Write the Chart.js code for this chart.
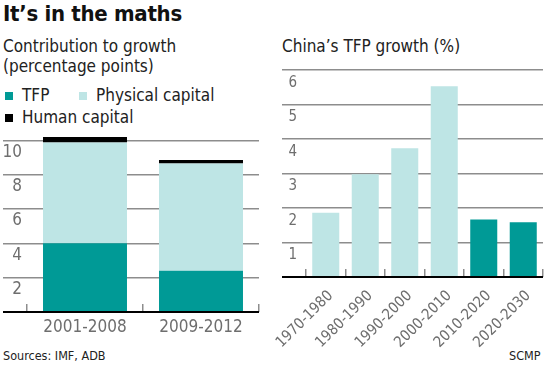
<!DOCTYPE html>
<html>
<head>
<meta charset="utf-8">
<script src="https://cdn.jsdelivr.net/npm/chart.js@4/dist/chart.umd.min.js"></script>
<style>
  body { margin: 0; width: 550px; height: 367px; background: #fff; position: relative; overflow: hidden;
         font-family: "DejaVu Sans Condensed", "Liberation Sans Narrow", sans-serif; color: #222; }
  .txt { position: absolute; white-space: nowrap; line-height: 1; }
  .sq { display: inline-block; width: 8px; height: 8px; margin-right: 9px; vertical-align: 1px; }
  canvas { position: absolute; }
</style>
</head>
<body>
<div class="txt" style="left:3px;top:3px;font-size:22px;font-weight:bold;letter-spacing:-0.3px;color:#111;">It’s in the maths</div>
<div class="txt" style="left:3px;top:38px;font-size:17px;">Contribution to growth</div>
<div class="txt" style="left:3px;top:58px;font-size:17px;">(percentage points)</div>
<div class="txt" style="left:5px;top:87px;font-size:17px;"><span class="sq" style="background:#009a96"></span>TFP</div>
<div class="txt" style="left:79px;top:87px;font-size:17px;"><span class="sq" style="background:#bee5e5"></span>Physical capital</div>
<div class="txt" style="left:5px;top:109px;font-size:17px;"><span class="sq" style="background:#000"></span>Human capital</div>
<div class="txt" style="left:282px;top:38px;font-size:17px;">China’s TFP growth (%)</div>
<div class="txt" style="left:3px;top:350px;font-size:12.5px;">Sources: IMF, ADB</div>
<div class="txt" style="left:509px;top:350px;font-size:12.5px;">SCMP</div>

<canvas id="contribChart" width="262" height="215" style="left:0;top:125px;"></canvas>
<canvas id="tfpChart" width="279" height="303" style="left:267px;top:64px;"></canvas>

<script>
// left chart: contribution to growth (percentage points)
const periods = ['2001-2008', '2009-2012'];
const tfpContrib = [4.0, 2.4];
const physicalCapital = [5.87, 6.25];
const humanCapital = [0.32, 0.21];

// right chart: China's TFP growth (%)
const decades = ['1970-1980', '1980-1990', '1990-2000', '2000-2010', '2010-2020', '2020-2030'];
const tfpGrowth = [1.86, 2.98, 3.73, 5.53, 1.67, 1.59];
const projected = [false, false, false, false, true, true];

const teal = '#009a96';
const lightTeal = '#bee5e5';
const gridGris = '#8d8d8d';
const fonte = '"DejaVu Sans Condensed", "Liberation Sans Narrow", sans-serif';

function corDaGrade(ctx) {
  return ctx.tick && ctx.tick.value === 0 ? '#000' : gridGris;
}
function larguraDaGrade(ctx) {
  return ctx.tick && ctx.tick.value === 0 ? 2 : 1.5;
}

// tamanho fixo do eixo x, sem o recuo automatico das etiquetas
function fixarEixoX(altura) {
  return (scale) => {
    scale.height = altura;
    scale.paddingLeft = 0;
    scale.paddingRight = 0;
  };
}

new Chart(document.getElementById('contribChart'), {
  type: 'bar',
  data: {
    labels: periods,
    datasets: [
      { label: 'TFP', data: tfpContrib, backgroundColor: teal },
      { label: 'Physical capital', data: physicalCapital, backgroundColor: lightTeal },
      { label: 'Human capital', data: humanCapital, backgroundColor: '#000' }
    ]
  },
  options: {
    responsive: false,
    animation: false,
    layout: { padding: { left: 3, right: 3, top: 5, bottom: 0 } },
    plugins: { legend: { display: false }, tooltip: { enabled: false } },
    datasets: { bar: { categoryPercentage: 1, barPercentage: 0.724 } },
    scales: {
      x: {
        stacked: true,
        border: { display: false },
        grid: { offset: true, drawOnChartArea: false, drawTicks: true, tickLength: -8, color: gridGris, lineWidth: 1.5 },
        ticks: { color: '#6e6e6e', font: { family: fonte, size: 17 }, padding: 13, maxRotation: 0 },
        afterFit: fixarEixoX(28)
      },
      y: {
        stacked: true,
        min: 0,
        max: 10.6,
        border: { display: false },
        grid: { color: corDaGrade, lineWidth: larguraDaGrade, drawTicks: true, tickLength: 24 },
        ticks: {
          stepSize: 2, includeBounds: false, padding: -19, labelOffset: 12,
          color: '#6e6e6e', font: { family: fonte, size: 17 },
          callback: (v) => v === 0 ? '' : v
        },
        afterFit: (scale) => { scale.width = 24; }
      }
    }
  }
});

new Chart(document.getElementById('tfpChart'), {
  type: 'bar',
  data: {
    labels: decades,
    datasets: [{
      label: 'TFP growth',
      data: tfpGrowth,
      backgroundColor: projected.map(p => p ? teal : lightTeal)
    }]
  },
  options: {
    responsive: false,
    animation: false,
    layout: { padding: { left: 15, right: 3, top: 6, bottom: 0 } },
    plugins: { legend: { display: false }, tooltip: { enabled: false } },
    datasets: { bar: { categoryPercentage: 1, barPercentage: 0.684 } },
    scales: {
      x: {
        border: { display: false },
        grid: { offset: true, drawOnChartArea: false, drawTicks: true, tickLength: -8, color: gridGris, lineWidth: 1.5 },
        ticks: {
          color: '#6e6e6e', font: { family: fonte, size: 15 }, padding: 18, labelOffset: 5,
          minRotation: 45, maxRotation: 45, autoSkip: false
        },
        afterFit: fixarEixoX(90)
      },
      y: {
        min: 0,
        max: 6,
        border: { display: false },
        grid: { color: corDaGrade, lineWidth: larguraDaGrade, drawTicks: true, tickLength: 24 },
        ticks: {
          stepSize: 1, padding: -15, labelOffset: 13,
          color: '#6e6e6e', font: { family: fonte, size: 15 },
          callback: (v) => v === 0 ? '' : v
        },
        afterFit: (scale) => { scale.width = 24; }
      }
    }
  }
});
</script>
</body>
</html>
